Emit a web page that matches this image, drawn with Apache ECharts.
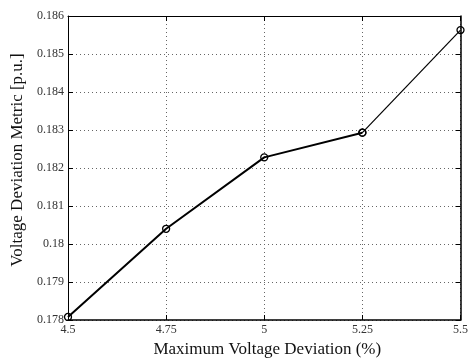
<!DOCTYPE html>
<html><head><meta charset="utf-8">
<script src="https://cdn.jsdelivr.net/npm/echarts@6/dist/echarts.min.js"></script>
<style>html,body{margin:0;padding:0;background:#fff}#c{width:471px;height:363px}</style>
</head><body><div id="c"></div>
<script>
const xValues = [4.5, 4.75, 5, 5.25, 5.5];
const yValues = [0.17808, 0.18040, 0.18228, 0.18293, 0.18563];
const xTitle = 'Maximum Voltage Deviation (%)';
const yTitle = 'Voltage Deviation Metric [p.u.]';

const pts = xValues.map((x, i) => [x, yValues[i]]);
const font = 'Liberation Serif';
const chart = echarts.init(document.getElementById('c'));
const gridLine = {show: true, lineStyle: {color: '#666', type: [1, 3], width: 1}};
chart.setOption({
  animation: false,
  grid: {left: 68, right: 10, top: 16, bottom: 39},
  xAxis: [{
    type: 'value', min: 4.5, max: 5.5, interval: 0.25,
    name: xTitle, nameLocation: 'middle', nameGap: 21,
    nameTextStyle: {fontFamily: font, fontSize: 17, color: '#111', padding: [0, 0, 0, 6]},
    axisLine: {lineStyle: {color: '#000', width: 1.5}},
    axisTick: {inside: true, length: 5, lineStyle: {color: '#000'}},
    axisLabel: {fontFamily: font, fontSize: 12, color: '#333', margin: 4, formatter: v => String(+v.toFixed(2))},
    splitLine: gridLine
  }, {
    type: 'value', min: 4.5, max: 5.5, interval: 0.25, position: 'top',
    axisLine: {show: true, lineStyle: {color: '#000', width: 1}},
    axisTick: {inside: true, length: 5, lineStyle: {color: '#000'}},
    axisLabel: {show: false}, splitLine: {show: false}
  }],
  yAxis: [{
    type: 'value', min: 0.178, max: 0.186, interval: 0.001,
    name: yTitle, nameLocation: 'middle', nameGap: 33,
    nameTextStyle: {fontFamily: font, fontSize: 17, color: '#111', padding: [0, 0, 0, 16]},
    axisLine: {show: true, lineStyle: {color: '#000', width: 1}},
    axisTick: {inside: true, length: 5, lineStyle: {color: '#000'}},
    axisLabel: {fontFamily: font, fontSize: 12, color: '#333', margin: 4, formatter: v => String(+v.toFixed(3))},
    splitLine: gridLine
  }, {
    type: 'value', min: 0.178, max: 0.186, interval: 0.001, position: 'right',
    axisLine: {show: true, lineStyle: {color: '#000', width: 1.5}},
    axisTick: {inside: true, length: 5, lineStyle: {color: '#000'}},
    axisLabel: {show: false}, splitLine: {show: false}
  }],
  series: [{
    type: 'line', data: pts.slice(0, 4),
    lineStyle: {color: '#000', width: 2},
    symbol: 'circle', symbolSize: 7,
    itemStyle: {color: 'rgba(255,255,255,0)', borderColor: '#000', borderWidth: 1.3},
    z: 3
  }, {
    type: 'line', data: pts.slice(3),
    lineStyle: {color: '#000', width: 1.2},
    symbol: 'circle', symbolSize: 7,
    itemStyle: {color: 'rgba(255,255,255,0)', borderColor: '#000', borderWidth: 1.3},
    z: 3
  }]
});
</script></body></html>
